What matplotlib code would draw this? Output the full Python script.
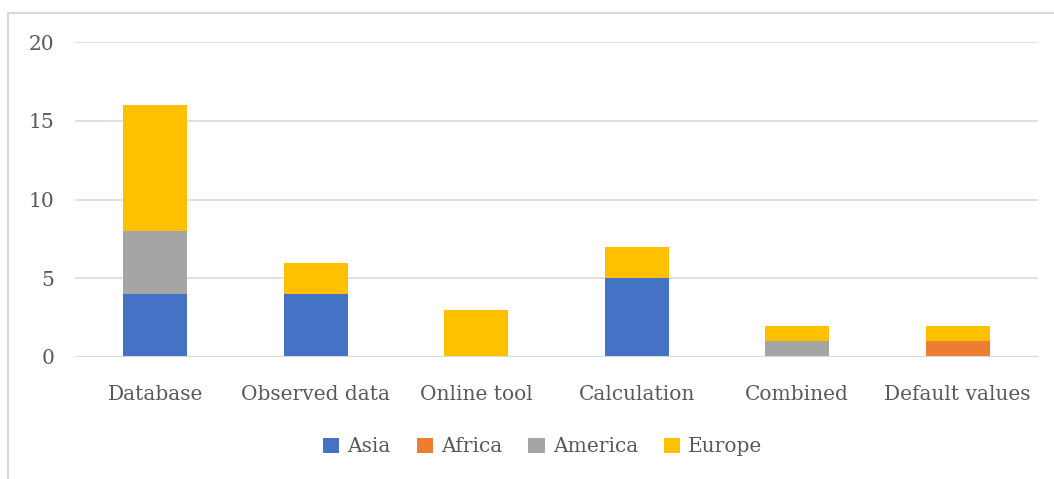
import matplotlib
matplotlib.use("Agg")
import matplotlib.pyplot as plt
from matplotlib.patches import Rectangle
import numpy as np

categories = ["Database", "Observed data", "Online tool", "Calculation", "Combined", "Default values"]
series_names = ["Asia", "Africa", "America", "Europe"]
asia = [4, 4, 0, 5, 0, 0]
africa = [0, 0, 0, 0, 0, 1]
america = [4, 0, 0, 0, 1, 0]
europe = [8, 2, 3, 2, 1, 1]
colors = ["#4472C4", "#ED7D31", "#A5A5A5", "#FFC000"]

plt.rcParams['font.family'] = ['DejaVu Serif']
W, H = 1054, 479
fig = plt.figure(figsize=(W / 100, H / 100), dpi=100)
ax = fig.add_axes([75 / W, 1 - 357 / H, (1038 - 75) / W, (357 - 42) / H])

fig.patches.append(Rectangle((8 / W, -0.1), 1.2, 1 - 13 / H + 0.1, transform=fig.transFigure,
                             fill=False, edgecolor="#d9d9d9", linewidth=1.5))

x = np.arange(len(categories))
bottom = np.zeros(len(categories))
handles = []
for name, vals, c in zip(series_names, [asia, africa, america, europe], colors):
    h = ax.bar(x, vals, 0.4, bottom=bottom, color=c, label=name, zorder=3)
    bottom += np.array(vals)
    handles.append(h)

ax.set_xlim(-0.5, len(categories) - 0.5)
ax.set_ylim(0, 20)
ax.set_yticks([0, 5, 10, 15, 20])
for y in [5, 10, 15, 20]:
    ax.axhline(y, color="#d9d9d9", linewidth=1.2, zorder=1)
ax.axhline(0, color="#d9d9d9", linewidth=1.5, zorder=4)
for s in ax.spines.values():
    s.set_visible(False)
ax.tick_params(axis='both', length=0, labelsize=14.5, labelcolor="#595959")
ax.tick_params(axis='y', pad=15)
ax.tick_params(axis='x', pad=20)
ax.set_xticks(x)
ax.set_xticklabels(categories)

fig.legend(handles=handles, labels=series_names, loc='center', bbox_to_anchor=(0.515, 1 - 447 / H),
           ncol=4, frameon=False, fontsize=14.5, handlelength=0.8, handleheight=0.8,
           handletextpad=0.4, columnspacing=1.3, labelcolor="#595959")

fig.savefig("out.png", dpi=100)
